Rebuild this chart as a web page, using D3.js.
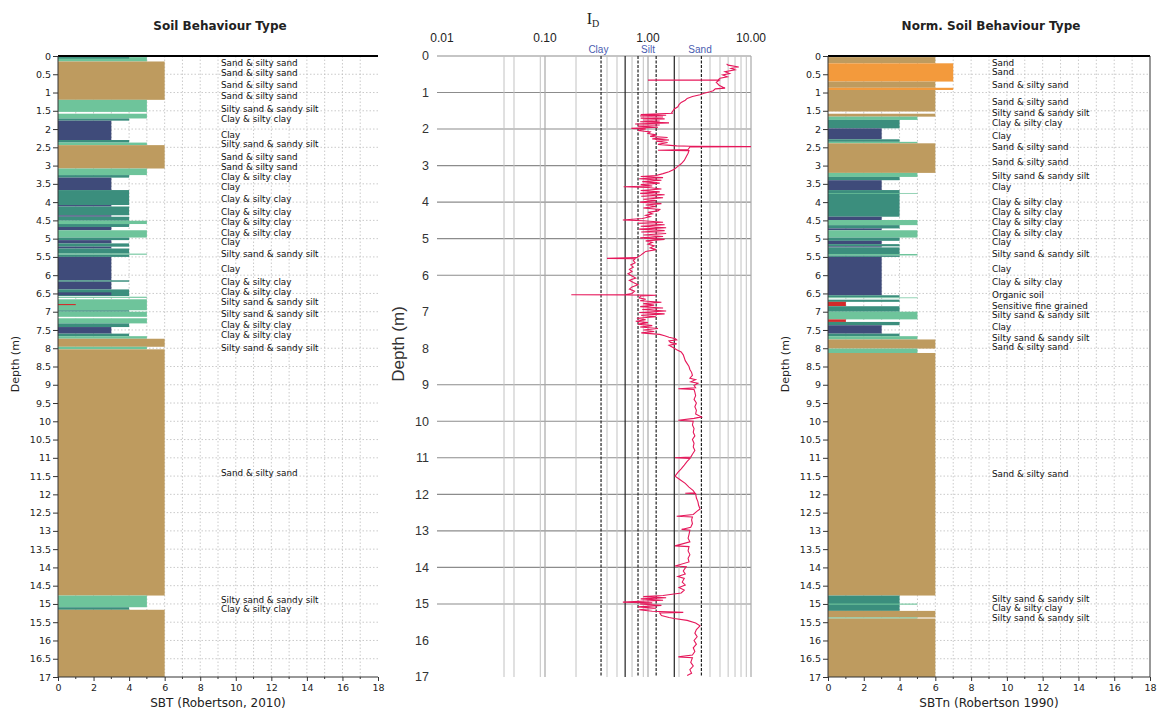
<!DOCTYPE html>
<html><head><meta charset="utf-8">
<script src="https://cdn.jsdelivr.net/npm/d3@7/dist/d3.min.js"></script>
<style>body{margin:0;background:#fff;} svg{display:block;font-family:"DejaVu Sans",sans-serif;}</style>
</head><body><svg id="c" width="1164" height="711"></svg>
<script>
// ---------- DATA ----------
const zoneColors = {1:"#d42a2a",2:"#8a5a2b",3:"#3f4b7a",4:"#3b8e7d",5:"#6ec49b",6:"#be9b5f",7:"#f39a3c"};

// [top depth (m), bottom depth (m), SBT zone]
const sbtSegments = [
 [0,0.03,1],[0.03,0.15,5],[0.03,0.07,4],[0.15,1.20,6],[1.20,1.53,5],[1.58,1.71,5],[1.71,1.77,4],
 [1.77,2.30,3],[2.30,2.37,4],[2.37,2.44,5],[2.44,3.08,6],[3.08,3.26,5],[3.26,3.33,4],
 [3.33,3.67,3],[3.67,4.08,4],[4.08,4.12,3],[4.12,4.36,4],[4.36,4.40,3],[4.40,4.51,4],
 [4.51,4.60,5],[4.60,4.68,4],[4.68,4.77,3],[4.77,4.97,5],[4.97,5.04,4],[5.04,5.13,3],
 [5.13,5.22,4],[5.22,5.27,3],[5.27,5.41,4],[5.41,5.44,5],[5.44,5.50,4],[5.50,6.14,3],
 [6.14,6.18,4],[6.18,6.39,3],[6.39,6.57,4],[6.47,6.55,3],[6.59,6.62,5],[6.66,6.96,5],
 [6.79,6.82,1],[6.96,7.00,4],[7.00,7.14,5],[7.18,7.32,5],[7.32,7.42,4],[7.42,7.60,3],
 [7.60,7.67,4],[7.67,7.74,5],[7.74,7.96,6],[7.96,8.03,5],[8.03,14.77,6],[14.77,15.09,5],
 [15.09,15.16,4],[15.16,17,6]
];
const sbtnSegments = [
 [0,0.03,1],[0.03,0.20,6],[0.20,0.70,7],[0.70,0.87,6],[0.87,0.93,7],[0.93,1.52,6],
 [1.58,1.66,6],[1.66,1.75,5],[1.75,1.98,4],[1.98,2.28,3],[2.28,2.35,4],[2.35,2.39,5],
 [2.39,3.20,6],[3.20,3.31,5],[3.31,3.40,4],[3.40,3.67,3],[3.67,4.40,4],[3.75,3.77,5],
 [4.40,4.49,3],[4.49,4.63,5],[4.63,4.72,4],[4.72,4.77,3],[4.77,4.97,5],[4.97,5.06,4],
 [5.06,5.15,3],[5.15,5.21,4],[5.21,5.24,3],[5.24,5.42,4],[5.42,5.46,5],[5.46,5.50,4],
 [5.50,6.55,3],[6.55,6.61,4],[6.61,6.63,5],[6.67,6.73,4],[6.73,6.85,1],[6.85,7.00,4],
 [7.00,7.21,5],[7.21,7.28,1],[7.28,7.37,4],[7.37,7.60,3],[7.60,7.67,4],[7.67,7.76,5],
 [7.76,8.01,6],[8.01,8.13,5],[8.13,14.77,6],[14.77,15.19,4],[14.99,15.02,5],
 [15.19,15.37,6],[15.37,15.40,5],[15.40,17,6]
];

const sbtLabels = [
 [0.18,"Sand & silty sand"],[0.45,"Sand & silty sand"],[0.79,"Sand & silty sand"],[1.10,"Sand & silty sand"],
 [1.46,"Silty sand & sandy silt"],[1.71,"Clay & silty clay"],[2.15,"Clay"],[2.41,"Silty sand & sandy silt"],
 [2.76,"Sand & silty sand"],[3.05,"Sand & silty sand"],[3.32,"Clay & silty clay"],[3.58,"Clay"],
 [3.90,"Clay & silty clay"],[4.27,"Clay & silty clay"],[4.54,"Clay & silty clay"],[4.83,"Clay & silty clay"],
 [5.10,"Clay"],[5.42,"Silty sand & sandy silt"],[5.84,"Clay"],[6.18,"Clay & silty clay"],
 [6.46,"Clay & silty clay"],[6.73,"Silty sand & sandy silt"],[7.07,"Silty sand & sandy silt"],
 [7.37,"Clay & silty clay"],[7.64,"Clay & silty clay"],[7.98,"Silty sand & sandy silt"],
 [11.42,"Sand & silty sand"],[14.88,"Silty sand & sandy silt"],[15.13,"Clay & silty clay"]
];
const sbtnLabels = [
 [0.18,"Sand"],[0.43,"Sand"],[0.79,"Sand & silty sand"],[1.27,"Sand & silty sand"],
 [1.55,"Silty sand & sandy silt"],[1.84,"Clay & silty clay"],[2.18,"Clay"],[2.48,"Sand & silty sand"],
 [2.90,"Sand & silty sand"],[3.29,"Silty sand & sandy silt"],[3.58,"Clay"],[3.99,"Clay & silty clay"],
 [4.27,"Clay & silty clay"],[4.54,"Clay & silty clay"],[4.83,"Clay & silty clay"],[5.10,"Clay"],
 [5.43,"Silty sand & sandy silt"],[5.84,"Clay"],[6.18,"Clay & silty clay"],[6.55,"Organic soil"],
 [6.85,"Sensitive fine grained"],[7.10,"Silty sand & sandy silt"],[7.42,"Clay"],
 [7.71,"Silty sand & sandy silt"],[7.96,"Sand & silty sand"],[11.45,"Sand & silty sand"],
 [14.86,"Silty sand & sandy silt"],[15.12,"Clay & silty clay"],[15.38,"Silty sand & sandy silt"]
];

// material index ID trace: [depth (m), ID]
const idTrace = [
 [0.22,5.8],[0.25,6.0],[0.30,7.6],[0.34,6.4],[0.38,7.0],[0.43,5.6],[0.48,6.2],[0.52,5.3],[0.57,5.9],
 [0.61,5.0],[0.655,4.8],[0.66,1.0],[0.665,4.9],[0.72,4.6],[0.80,4.9],[0.86,5.4],[0.88,5.6],[0.90,4.5],
 [0.95,4.3],[0.98,4.0],[1.02,3.5],[1.06,3.2],[1.11,2.7],[1.16,2.4],[1.21,2.3],[1.27,2.1],[1.33,2.0],
 [1.39,1.95],[1.45,1.8],[1.50,1.75],[1.55,1.70],[1.57,1.72],[1.60,0.85],[1.62,1.50],[1.64,0.84],
 [1.67,1.40],[1.70,0.85],[1.72,1.45],[1.75,0.90],[1.78,1.30],[1.80,0.84],[1.83,1.60],[1.86,0.75],
 [1.89,1.30],[1.92,0.80],[1.95,1.25],[1.98,0.69],[2.00,0.95],[2.04,0.80],[2.08,1.05],[2.12,1.00],
 [2.16,1.20],[2.20,1.05],[2.23,1.55],[2.27,1.10],[2.30,1.60],[2.33,1.20],[2.37,1.55],[2.42,1.25],
 [2.46,1.90],[2.47,2.60],[2.48,10.0],[2.49,2.55],[2.56,2.45],[2.58,1.25],[2.59,2.50],[2.66,2.45],
 [2.76,2.35],[2.86,2.25],[2.95,2.10],[3.02,1.95],[3.10,1.80],[3.17,1.60],[3.22,1.40],[3.27,1.20],
 [3.30,0.85],[3.33,1.40],[3.36,0.82],[3.40,1.35],[3.44,0.88],[3.48,1.30],[3.52,0.85],[3.56,1.10],
 [3.58,0.58],[3.60,1.00],[3.64,1.35],[3.68,0.85],[3.72,1.30],[3.76,0.84],[3.80,1.45],[3.84,0.86],
 [3.88,1.40],[3.92,0.90],[3.96,1.20],[4.00,0.84],[4.04,1.35],[4.08,0.95],[4.12,1.20],[4.16,0.90],
 [4.20,1.30],[4.24,1.25],[4.28,1.00],[4.32,1.10],[4.36,0.95],[4.40,1.05],[4.45,0.88],[4.49,0.57],
 [4.51,0.90],[4.55,1.40],[4.58,0.80],[4.62,1.45],[4.66,0.85],[4.70,1.50],[4.74,0.82],[4.78,1.45],
 [4.82,0.86],[4.86,1.50],[4.90,0.90],[4.94,1.40],[4.98,0.84],[5.02,1.45],[5.06,0.95],[5.10,1.10],
 [5.15,1.00],[5.20,1.15],[5.25,1.05],[5.30,1.20],[5.35,0.95],[5.40,0.90],[5.45,0.85],[5.52,0.78],
 [5.54,0.40],[5.55,0.75],[5.60,0.72],[5.66,0.75],[5.72,0.68],[5.78,0.72],[5.84,0.66],[5.90,0.70],
 [5.96,0.64],[6.02,0.70],[6.08,0.76],[6.14,0.66],[6.20,0.72],[6.26,0.80],[6.32,0.70],[6.38,0.66],
 [6.44,0.74],[6.50,0.70],[6.53,0.61],[6.535,0.18],[6.54,0.62],[6.55,1.20],[6.57,0.85],[6.62,0.82],
 [6.66,0.95],[6.70,0.84],[6.74,1.35],[6.78,0.90],[6.82,1.15],[6.86,0.84],[6.90,1.40],[6.94,0.88],
 [6.98,1.50],[7.02,0.82],[7.06,1.45],[7.10,0.86],[7.14,1.20],[7.18,0.78],[7.22,0.95],[7.26,0.76],
 [7.30,1.00],[7.34,0.80],[7.38,1.10],[7.42,0.84],[7.46,1.25],[7.50,0.90],[7.54,1.15],[7.58,0.86],
 [7.62,1.30],[7.66,1.45],[7.70,1.60],[7.74,1.85],[7.77,1.90],[7.80,1.60],[7.84,1.65],[7.88,1.90],
 [7.92,1.60],[7.98,1.75],[8.04,1.90],[8.10,2.10],[8.18,2.20],[8.26,2.25],[8.34,2.30],[8.42,2.40],
 [8.50,2.50],[8.58,2.55],[8.66,2.65],[8.74,2.70],[8.82,2.55],[8.86,2.90],[8.92,2.60],[8.96,3.05],
 [9.02,2.80],[9.08,2.90],[9.11,1.97],[9.13,2.80],[9.20,2.85],[9.30,2.90],[9.40,2.80],[9.50,2.95],
 [9.60,2.85],[9.70,2.95],[9.80,2.90],[9.88,3.30],[9.92,2.80],[9.97,1.97],[10.00,2.75],[10.10,2.70],
 [10.20,2.80],[10.30,2.75],[10.40,2.85],[10.50,2.70],[10.60,2.80],[10.70,2.75],[10.80,2.85],
 [10.90,2.70],[10.98,2.60],[11.00,1.83],[11.02,2.55],[11.10,2.40],[11.20,2.25],[11.30,2.10],
 [11.40,1.95],[11.50,1.83],[11.60,2.05],[11.70,2.30],[11.80,2.50],[11.90,2.75],[11.96,2.85],
 [11.97,2.30],[11.98,2.90],[12.10,2.95],[12.20,3.05],[12.30,3.10],[12.40,3.20],[12.46,3.00],
 [12.55,2.75],[12.60,1.90],[12.62,2.70],[12.70,2.65],[12.80,2.70],[12.90,2.60],[12.96,2.12],
 [12.98,2.55],[13.10,2.50],[13.20,2.45],[13.30,2.55],[13.41,1.83],[13.43,2.50],[13.55,2.45],
 [13.65,2.55],[13.75,2.45],[13.85,2.50],[13.96,1.83],[13.98,2.35],[14.10,2.20],[14.18,2.30],
 [14.25,1.95],[14.30,2.25],[14.40,2.15],[14.48,2.30],[14.55,2.00],[14.62,2.25],[14.70,2.10],
 [14.77,1.40],[14.80,0.90],[14.83,1.50],[14.86,0.85],[14.90,1.40],[14.95,0.57],[14.97,1.10],
 [15.00,0.84],[15.04,1.35],[15.08,0.80],[15.12,1.20],[15.16,0.82],[15.20,1.10],[15.23,2.20],
 [15.25,1.30],[15.32,1.35],[15.37,1.60],[15.40,1.80],[15.45,2.40],[15.52,2.90],[15.60,3.20],
 [15.70,2.95],[15.80,2.85],[15.90,3.00],[16.00,2.80],[16.10,2.95],[16.20,2.75],[16.30,2.85],
 [16.40,2.70],[16.45,1.97],[16.47,2.70],[16.60,2.60],[16.70,2.75],[16.80,2.55],[16.90,2.65],[16.96,2.40]
];

const depthTicksHalf = d3.range(0, 17.001, 0.5);
const depthTicksInt = d3.range(0, 18, 1);
const sbtTicks = d3.range(0, 19, 2);
const sbtMinorTicks = d3.range(1, 18, 2);
const idTickLabels = [[0.01,"0.01"],[0.1,"0.10"],[1,"1.00"],[10,"10.00"]];
const idGridMinor = [0.04,0.05,0.09,0.2,0.4,0.5,0.7,0.9,2,4,5,6,7,8,9];
const idGridMajor = [0.1,1,10];
const idBoundSolid = [0.6,1.8];
const idBoundDashed = [0.35,0.8,1.2,3.3];
const idClassLabels = [[0.33,"Clay"],[1.0,"Silt"],[3.2,"Sand"]];
const idHGrid = [0,1,2,3,4,5,6,9,10,11,12,13,14,15];

// ---------- CHART ----------
const svg = d3.select("#c");
const Y0 = 56, Y1 = 677;
const y = d3.scaleLinear().domain([0,17]).range([Y0,Y1]);

function sbtPanel(x0, x1, segs, labels, title, xtitle, labelX, border, ylabX) {
  const x = d3.scaleLinear().domain([0,18]).range([x0,x1]);
  const g = svg.append("g");
  g.selectAll(".vg").data(d3.range(1,18)).join("line")
    .attr("x1", d=>x(d)).attr("x2", d=>x(d)).attr("y1", Y0).attr("y2", Y1)
    .attr("stroke","#bdbdbd").attr("stroke-width",0.8).attr("stroke-dasharray","1.5,2");
  g.selectAll(".hg").data(depthTicksHalf.slice(1,-1)).join("line")
    .attr("x1", x0).attr("x2", x1).attr("y1", d=>y(d)).attr("y2", d=>y(d))
    .attr("stroke","#bdbdbd").attr("stroke-width",0.8).attr("stroke-dasharray","1.5,2");
  g.selectAll(".bar").data(segs).join("rect")
    .attr("x", x(0)).attr("width", d=>x(d[2])-x(0))
    .attr("y", d=>y(d[0])).attr("height", d=>y(d[1])-y(d[0]))
    .attr("fill", d=>zoneColors[d[2]]);
  g.selectAll(".lab").data(labels).join("text")
    .attr("x", labelX).attr("y", d=>y(d[0])).attr("dy","0.35em")
    .attr("font-size", 8.8).attr("fill","#111").text(d=>d[1]);
  g.append("line").attr("x1",x0).attr("x2",x1).attr("y1",Y0).attr("y2",Y0).attr("stroke","#000").attr("stroke-width",2);
  g.append("line").attr("x1",x0).attr("x2",x0).attr("y1",Y0).attr("y2",Y1).attr("stroke","#333").attr("stroke-width",1);
  g.append("line").attr("x1",x0).attr("x2",x1).attr("y1",Y1).attr("y2",Y1).attr("stroke","#333").attr("stroke-width",1);
  if (border) g.append("line").attr("x1",x1).attr("x2",x1).attr("y1",Y0).attr("y2",Y1).attr("stroke","#333").attr("stroke-width",1);
  const yAxis = d3.axisLeft(y).tickValues(depthTicksHalf).tickSize(5).tickPadding(2).tickFormat(d=>String(+d.toFixed(1)));
  const ya = g.append("g").attr("transform",`translate(${x0},0)`).call(yAxis);
  ya.select(".domain").remove();
  ya.selectAll("text").attr("font-size",9.5).attr("font-family","DejaVu Sans").attr("fill","#222");
  ya.selectAll("line").attr("stroke","#333");
  const xAxis = d3.axisBottom(x).tickValues(sbtTicks).tickSize(4).tickPadding(3);
  const xa = g.append("g").attr("transform",`translate(0,${Y1})`).call(xAxis);
  xa.select(".domain").remove();
  xa.selectAll("text").attr("font-size",9.5).attr("font-family","DejaVu Sans").attr("fill","#222");
  xa.selectAll("line").attr("stroke","#333");
  g.selectAll(".mt").data(sbtMinorTicks).join("line")
    .attr("x1",d=>x(d)).attr("x2",d=>x(d)).attr("y1",Y1).attr("y2",Y1+2).attr("stroke","#333");
  g.append("text").attr("x",(x0+x1)/2+2).attr("y",30).attr("text-anchor","middle")
    .attr("font-size",12).attr("font-weight","bold").attr("fill","#222").text(title);
  g.append("text").attr("x",(x0+x1)/2).attr("y",707).attr("text-anchor","middle")
    .attr("font-size",12).attr("fill","#222").text(xtitle);
  g.append("text").attr("transform",`translate(${ylabX},364) rotate(-90)`).attr("text-anchor","middle")
    .attr("font-size",11).attr("fill","#222").text("Depth (m)");
}

sbtPanel(58, 378, sbtSegments, sbtLabels, "Soil Behaviour Type", "SBT (Robertson, 2010)", 221, false, 19);
sbtPanel(828, 1150, sbtnSegments, sbtnLabels, "Norm. Soil Behaviour Type", "SBTn (Robertson 1990)", 992, true, 789);

// middle ID panel
const xId = d3.scaleLog().domain([0.01,10]).range([442,751]);
const m = svg.append("g");
m.selectAll(".hg").data(idHGrid).join("line")
  .attr("x1",437).attr("x2",751).attr("y1",d=>y(d)).attr("y2",d=>y(d))
  .attr("stroke","#8c8c8c").attr("stroke-width",1.1);
m.selectAll(".vm").data(idGridMinor).join("line")
  .attr("x1",d=>xId(d)).attr("x2",d=>xId(d)).attr("y1",Y0).attr("y2",Y1)
  .attr("stroke","#c2c2c2").attr("stroke-width",1);
m.selectAll(".vM").data(idGridMajor).join("line")
  .attr("x1",d=>xId(d)).attr("x2",d=>xId(d)).attr("y1",Y0).attr("y2",Y1)
  .attr("stroke","#a8a8a8").attr("stroke-width",1.2);
m.selectAll(".vs").data(idBoundSolid).join("line")
  .attr("x1",d=>xId(d)).attr("x2",d=>xId(d)).attr("y1",Y0).attr("y2",Y1)
  .attr("stroke","#222").attr("stroke-width",1.2);
m.selectAll(".vd").data(idBoundDashed).join("line")
  .attr("x1",d=>xId(d)).attr("x2",d=>xId(d)).attr("y1",Y0).attr("y2",Y1)
  .attr("stroke","#222").attr("stroke-width",1.2).attr("stroke-dasharray","3,1.5");
m.append("path").datum(idTrace)
  .attr("d", d3.line().x(d=>xId(d[1])).y(d=>y(d[0])))
  .attr("fill","none").attr("stroke","#e6185b").attr("stroke-width",1.1);
m.selectAll(".dl").data(depthTicksInt).join("text")
  .attr("x",429).attr("y",d=>y(d)).attr("dy","0.35em").attr("text-anchor","end")
  .attr("font-family","Liberation Sans").attr("font-size",12.5).attr("fill","#333").text(d=>d);
m.selectAll(".tl").data(idTickLabels).join("text")
  .attr("x",d=>xId(d[0])).attr("y",42).attr("text-anchor","middle")
  .attr("font-family","Liberation Sans").attr("font-size",12).attr("fill","#222").text(d=>d[1]);
m.selectAll(".cl").data(idClassLabels).join("text")
  .attr("x",d=>xId(d[0])).attr("y",53).attr("text-anchor","middle")
  .attr("font-family","Liberation Sans").attr("font-size",10).attr("fill","#4a5cb0").text(d=>d[1]);
const it = m.append("text").attr("x",593).attr("y",24).attr("text-anchor","middle")
  .attr("font-family","Liberation Serif").attr("font-size",16).attr("fill","#222");
it.append("tspan").text("I");
it.append("tspan").attr("font-size",10).attr("dy",3).text("D");
m.append("text").attr("transform","translate(404,344) rotate(-90)").attr("text-anchor","middle")
  .attr("font-family","Liberation Sans").attr("font-size",17).attr("fill","#333").text("Depth (m)");
</script></body></html>
